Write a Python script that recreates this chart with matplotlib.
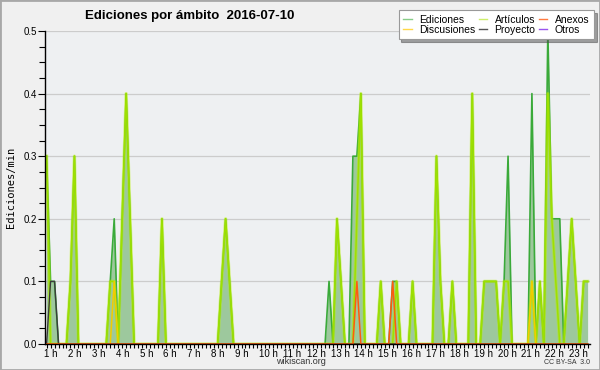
import numpy as np
import matplotlib.pyplot as plt
from matplotlib.ticker import MultipleLocator
from matplotlib.transforms import ScaledTranslation
from matplotlib.patches import Rectangle

# un valor por franja de 10 minutos, desde la 1 h (una fila por hora)
horas = [f'{h} h' for h in range(1, 24)]

ediciones = [
    0.3, 0.1, 0.1, 0.0, 0.0, 0.0,   # 1 h
    0.1, 0.3, 0.0, 0.0, 0.0, 0.0,   # 2 h
    0.0, 0.0, 0.0, 0.0, 0.1, 0.2,   # 3 h
    0.0, 0.2, 0.4, 0.2, 0.0, 0.0,   # 4 h
    0.0, 0.0, 0.0, 0.0, 0.0, 0.2,   # 5 h
    0.0, 0.0, 0.0, 0.0, 0.0, 0.0,   # 6 h
    0.0, 0.0, 0.0, 0.0, 0.0, 0.0,   # 7 h
    0.0, 0.0, 0.1, 0.2, 0.1, 0.0,   # 8 h
    0.0, 0.0, 0.0, 0.0, 0.0, 0.0,   # 9 h
    0.0, 0.0, 0.0, 0.0, 0.0, 0.0,   # 10 h
    0.0, 0.0, 0.0, 0.0, 0.0, 0.0,   # 11 h
    0.0, 0.0, 0.0, 0.0, 0.0, 0.1,   # 12 h
    0.0, 0.2, 0.1, 0.0, 0.0, 0.3,   # 13 h
    0.3, 0.4, 0.0, 0.0, 0.0, 0.0,   # 14 h
    0.1, 0.0, 0.0, 0.1, 0.1, 0.0,   # 15 h
    0.0, 0.0, 0.1, 0.0, 0.0, 0.0,   # 16 h
    0.0, 0.0, 0.3, 0.1, 0.0, 0.0,   # 17 h
    0.1, 0.0, 0.0, 0.0, 0.0, 0.4,   # 18 h
    0.0, 0.0, 0.1, 0.1, 0.1, 0.1,   # 19 h
    0.0, 0.1, 0.3, 0.0, 0.0, 0.0,   # 20 h
    0.0, 0.0, 0.4, 0.0, 0.1, 0.0,   # 21 h
    0.5, 0.2, 0.2, 0.2, 0.0, 0.1,   # 22 h
    0.2, 0.1, 0.0, 0.1, 0.1,        # 23 h
]

articulos = [
    0.3, 0.0, 0.0, 0.0, 0.0, 0.0,
    0.1, 0.3, 0.0, 0.0, 0.0, 0.0,
    0.0, 0.0, 0.0, 0.0, 0.1, 0.1,
    0.0, 0.2, 0.4, 0.2, 0.0, 0.0,
    0.0, 0.0, 0.0, 0.0, 0.0, 0.2,
    0.0, 0.0, 0.0, 0.0, 0.0, 0.0,
    0.0, 0.0, 0.0, 0.0, 0.0, 0.0,
    0.0, 0.0, 0.1, 0.2, 0.1, 0.0,
    0.0, 0.0, 0.0, 0.0, 0.0, 0.0,
    0.0, 0.0, 0.0, 0.0, 0.0, 0.0,
    0.0, 0.0, 0.0, 0.0, 0.0, 0.0,
    0.0, 0.0, 0.0, 0.0, 0.0, 0.0,
    0.0, 0.2, 0.1, 0.0, 0.0, 0.0,
    0.2, 0.4, 0.0, 0.0, 0.0, 0.0,
    0.1, 0.0, 0.0, 0.0, 0.1, 0.0,
    0.0, 0.0, 0.1, 0.0, 0.0, 0.0,
    0.0, 0.0, 0.3, 0.1, 0.0, 0.0,
    0.1, 0.0, 0.0, 0.0, 0.0, 0.4,
    0.0, 0.0, 0.1, 0.1, 0.1, 0.1,
    0.0, 0.1, 0.1, 0.0, 0.0, 0.0,
    0.0, 0.0, 0.1, 0.0, 0.1, 0.0,
    0.4, 0.2, 0.1, 0.0, 0.0, 0.1,
    0.2, 0.1, 0.0, 0.1, 0.1,
]

# series casi vacías: franja -> valor
discusiones = {17: 0.1, 122: 0.1}
proyecto = {1: 0.1, 2: 0.1}
anexos = {78: 0.1, 87: 0.1}
otros = {}

n = len(ediciones)
x = np.arange(n)
fuente = 'Liberation Sans'


def serie(puntos):
    y = np.zeros(n)
    for k, v in puntos.items():
        y[k] = v
    return y


fig = plt.figure(figsize=(6, 3.7), dpi=100, facecolor='#f0f0f0')
fig.patches.append(Rectangle((0, 0), 1, 1, transform=fig.transFigure,
                             fill=False, edgecolor='#a8a8a8', linewidth=2))
ax = fig.add_axes([45 / 600, 26 / 370, 545 / 600, 313 / 370])
ax.set_facecolor('#eef0f2')

ax.fill_between(x, ediciones, color='#9dc89d', linewidth=0, zorder=2)
ax.plot(x, ediciones, color='#3aaa3a', linewidth=1.2, zorder=3)
# línea de artículos con un poco de halo
ax.plot(x, articulos, color='#b8f000', linewidth=2.4, alpha=0.45, zorder=4)
ax.plot(x, articulos, color='#9ee000', linewidth=1.1, zorder=4)
ax.plot(x, serie(discusiones), color='#f2cc00', linewidth=1.1, zorder=5)
ax.plot(x, serie(proyecto), color='#3c3c3c', linewidth=1.0, zorder=5)
ax.plot(x, serie(anexos), color='#ff5a10', linewidth=1.1, zorder=5)
ax.plot(x, serie(otros), color='#9a4df0', linewidth=1.0, zorder=1)

ax.set_xlim(-0.4, 136.6)
ax.set_ylim(0, 0.5)

ax.set_xticks([6 * i for i in range(len(horas))])
ax.set_xticklabels(horas, family=fuente)
ax.xaxis.set_minor_locator(MultipleLocator(1))
ax.tick_params(axis='x', which='both', length=3, width=0.8, pad=0.5,
               labelsize=7, colors='black')

ax.yaxis.set_major_locator(MultipleLocator(0.1))
ax.yaxis.set_minor_locator(MultipleLocator(0.025))
ax.set_yticks(ax.get_yticks())
ax.set_yticklabels([f'{v:.1f}' for v in ax.get_yticks()], family=fuente)
ax.tick_params(axis='y', which='major', length=5, width=0.8, pad=1, labelsize=7)
ax.tick_params(axis='y', which='minor', length=4, width=0.8)
ax.set_ylim(0, 0.5)
ax.grid(axis='y', which='major', color='#cccccc', linewidth=0.9, zorder=0)
ax.set_axisbelow(True)

# etiquetas de hora alineadas a la izquierda, un poco antes de la marca
desplaza = ScaledTranslation(-2.5 / 100, 0, fig.dpi_scale_trans)
for t in ax.get_xticklabels():
    t.set_horizontalalignment('left')
    t.set_transform(t.get_transform() + desplaza)

for lado in ['top', 'right']:
    ax.spines[lado].set_visible(False)
for lado in ['left', 'bottom']:
    ax.spines[lado].set_color('black')
    ax.spines[lado].set_linewidth(1.0)
    ax.spines[lado].set_zorder(6)

ax.set_ylabel('Ediciones/min', family='DejaVu Sans Mono', fontsize=7.5, labelpad=5)

fig.text(85 / 600, 1 - 16 / 370, 'Ediciones por ámbito  2016-07-10',
         family=fuente, fontsize=9.5, fontweight='bold', ha='left', va='center')
fig.text(301 / 600, 1 - 362 / 370, 'wikiscan.org', family=fuente, fontsize=6.5,
         ha='center', va='center', color='#333333')
fig.text(590 / 600, 1 - 362 / 370, 'CC BY-SA  3.0', family=fuente, fontsize=5,
         ha='right', va='center', color='#333333')

h = [
    plt.Line2D([], [], color='#88cc88', lw=1),
    plt.Line2D([], [], color='#ffd84a', lw=1),
    plt.Line2D([], [], color='#cdee6a', lw=1),
    plt.Line2D([], [], color='#555555', lw=1),
    plt.Line2D([], [], color='#ff7a40', lw=1),
    plt.Line2D([], [], color='#9955ee', lw=1),
]
etiquetas = ['Ediciones', 'Discusiones', 'Artículos', 'Proyecto', 'Anexos', 'Otros']
leg = fig.legend(h, etiquetas, ncol=3, loc='upper right',
                 bbox_to_anchor=(594 / 600, 1 - 10 / 370),
                 prop={'family': fuente, 'size': 7.5},
                 frameon=True, fancybox=False, shadow=True, borderpad=0.45,
                 handlelength=0.8, handletextpad=0.7, columnspacing=0.35,
                 labelspacing=0.0, borderaxespad=0)
leg.get_frame().set_edgecolor('#999999')
leg.get_frame().set_linewidth(0.8)

fig.savefig('out.png', dpi=100, facecolor=fig.get_facecolor())
